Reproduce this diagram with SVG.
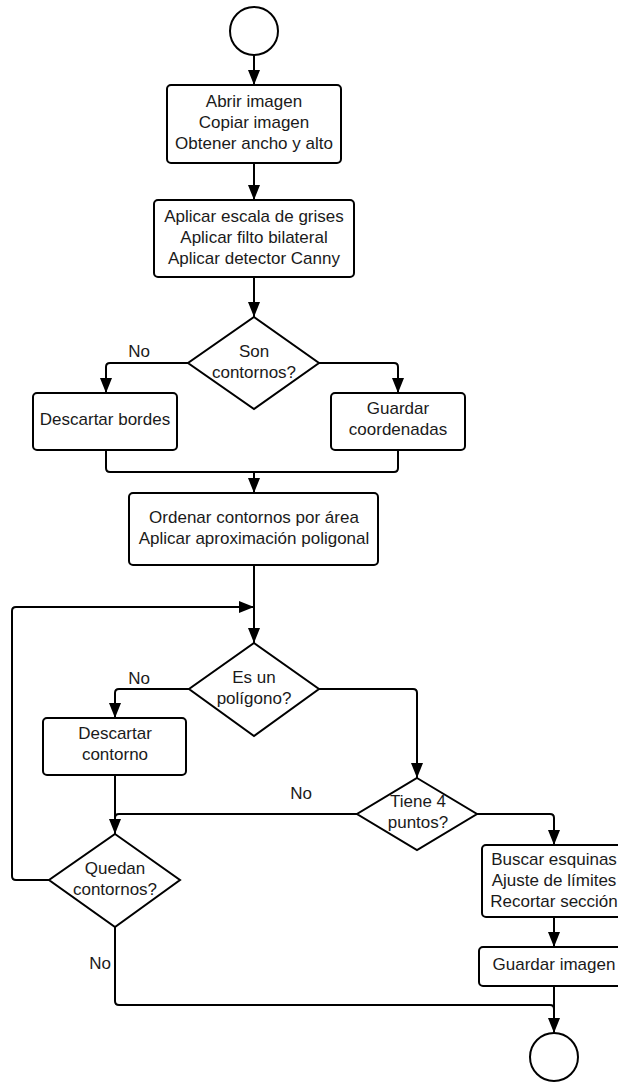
<svg xmlns="http://www.w3.org/2000/svg" width="618" height="1083" viewBox="0 0 618 1083">
  <defs>
    <marker id="arrow" markerWidth="15" markerHeight="12" refX="15" refY="6" orient="auto" markerUnits="userSpaceOnUse">
      <path d="M0,0 L15,6 L0,12 Z" fill="#000"/>
    </marker>
    <style>
      .shape { fill: #fff; stroke: #000; stroke-width: 2; }
      .link { fill: none; stroke: #000; stroke-width: 2; stroke-linejoin: round; }
      .arrow { marker-end: url(#arrow); }
      text { font-family: "Liberation Sans", Arial, sans-serif; font-size: 17px; fill: #1a1a1a; text-anchor: middle; }
    </style>
  </defs>

  <rect width="618" height="1083" fill="#fff"/>

  <!-- connectors -->
  <g id="connectors">
    <path class="link arrow" d="M254,55 V85"/>
    <path class="link arrow" d="M254,163 V200"/>
    <path class="link arrow" d="M254,277 V317"/>
    <path class="link arrow" d="M188,363 H110 Q106,363 106,367 V393"/>
    <path class="link arrow" d="M319,363 H394 Q398,363 398,367 V393"/>
    <path class="link" d="M106,450 V468 Q106,472 110,472 H394 Q398,472 398,468 V450"/>
    <path class="link arrow" d="M254,472 V493"/>
    <path class="link arrow" d="M254,565 V643"/>
    <path class="link arrow" d="M49,880 H16 Q12,880 12,876 V611 Q12,607 16,607 H254"/>
    <path class="link arrow" d="M189,689 H119 Q115,689 115,693 V718"/>
    <path class="link arrow" d="M319,689 H413 Q417,689 417,693 V778"/>
    <path class="link arrow" d="M115,775 V834"/>
    <path class="link" d="M357,814 H119 Q115,814 115,818"/>
    <path class="link arrow" d="M477,814 H550 Q554,814 554,818 V845"/>
    <path class="link arrow" d="M554,917 V947"/>
    <path class="link" d="M115,927 V1001 Q115,1005 119,1005 H550 Q554,1005 554,1009"/>
    <path class="link arrow" d="M554,986 V1033"/>
    <text x="139" y="357">No</text>
    <text x="139" y="684">No</text>
    <text x="301" y="799">No</text>
    <text x="100" y="969">No</text>
  </g>

  <g id="start">
    <circle class="shape" cx="254" cy="31" r="24"/>
  </g>

  <g id="abrir">
    <rect class="shape" x="167" y="85" width="174" height="78" rx="4"/>
    <text x="254" y="107">Abrir imagen</text>
    <text x="254" y="128">Copiar imagen</text>
    <text x="254" y="149">Obtener ancho y alto</text>
  </g>

  <g id="filtros">
    <rect class="shape" x="154" y="200" width="200" height="77" rx="4"/>
    <text x="254" y="222">Aplicar escala de grises</text>
    <text x="254" y="243">Aplicar filto bilateral</text>
    <text x="254" y="264">Aplicar detector Canny</text>
  </g>

  <g id="son-contornos">
    <path class="shape" d="M254,317 L319,363 L254,409 L188,363 Z"/>
    <text x="254" y="357">Son</text>
    <text x="254" y="378">contornos?</text>
  </g>

  <g id="descartar-bordes">
    <rect class="shape" x="33" y="393" width="144" height="57" rx="4"/>
    <text x="105" y="425">Descartar bordes</text>
  </g>

  <g id="guardar-coordenadas">
    <rect class="shape" x="331" y="393" width="134" height="57" rx="4"/>
    <text x="398" y="414">Guardar</text>
    <text x="398" y="435">coordenadas</text>
  </g>

  <g id="ordenar">
    <rect class="shape" x="129" y="493" width="249" height="72" rx="4"/>
    <text x="254" y="523">Ordenar contornos por área</text>
    <text x="254" y="544">Aplicar aproximación poligonal</text>
  </g>

  <g id="es-poligono">
    <path class="shape" d="M254,643 L319,689 L254,736 L189,689 Z"/>
    <text x="254" y="683">Es un</text>
    <text x="254" y="704">polígono?</text>
  </g>

  <g id="descartar-contorno">
    <rect class="shape" x="43" y="718" width="143" height="57" rx="4"/>
    <text x="115" y="739">Descartar</text>
    <text x="115" y="760">contorno</text>
  </g>

  <g id="tiene-4">
    <path class="shape" d="M417,778 L477,814 L417,850 L357,814 Z"/>
    <text x="418" y="807">Tiene 4</text>
    <text x="418" y="828">puntos?</text>
  </g>

  <g id="quedan">
    <path class="shape" d="M115,834 L180,880 L115,927 L49,880 Z"/>
    <text x="115" y="874">Quedan</text>
    <text x="115" y="895">contornos?</text>
  </g>

  <g id="recortar">
    <rect class="shape" x="482" y="845" width="144" height="72" rx="4"/>
    <text x="554" y="865">Buscar esquinas</text>
    <text x="554" y="886">Ajuste de límites</text>
    <text x="554" y="907">Recortar sección</text>
  </g>

  <g id="guardar-imagen">
    <rect class="shape" x="479" y="947" width="150" height="39" rx="4"/>
    <text x="554" y="970">Guardar imagen</text>
  </g>

  <g id="end">
    <circle class="shape" cx="554" cy="1057" r="24"/>
  </g>
</svg>
